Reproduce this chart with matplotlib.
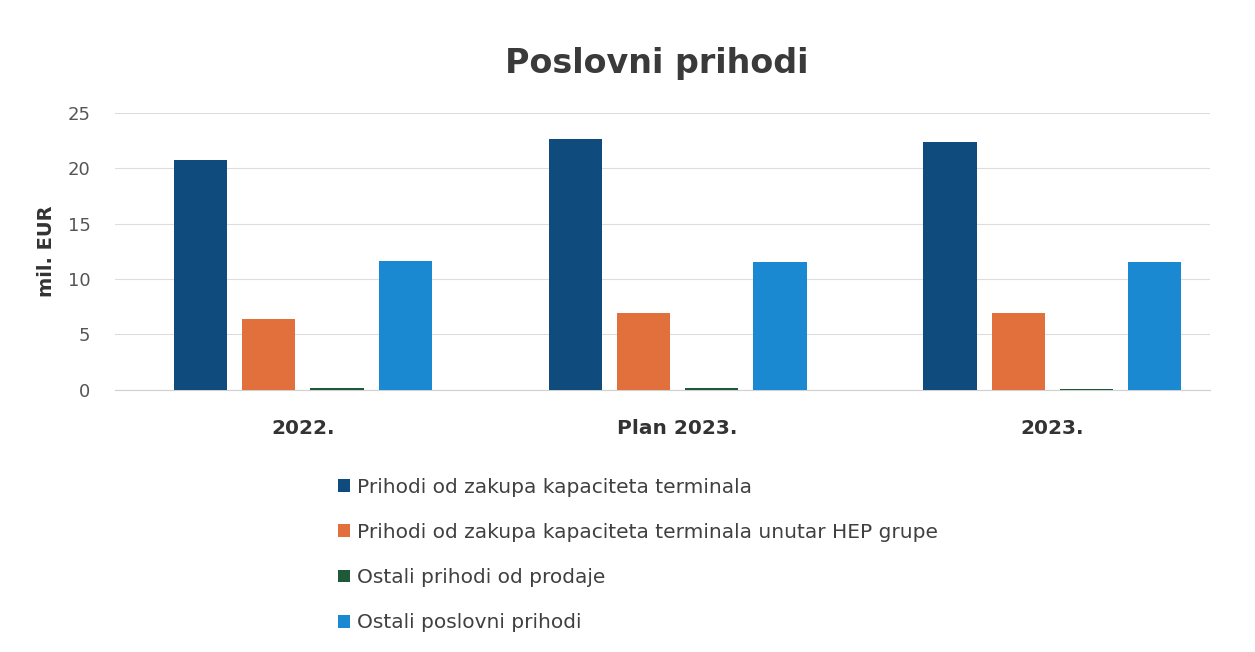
import numpy as np
import matplotlib.pyplot as plt

# Poslovni prihodi po kategorijama (mil. EUR)
kategorije = ['2022.', 'Plan 2023.', '2023.']
serije = ['Prihodi od zakupa kapaciteta terminala',
          'Prihodi od zakupa kapaciteta terminala unutar HEP grupe',
          'Ostali prihodi od prodaje',
          'Ostali poslovni prihodi']
zakup = [20.7, 22.6, 22.4]
zakup_hep = [6.4, 6.9, 6.9]
ostali_prodaja = [0.2, 0.15, 0.1]
ostali_poslovni = [11.6, 11.5, 11.5]
boje = ['#0f4c7d', '#e2703c', '#1e5a37', '#1a89d2']

vrijednosti = [zakup, zakup_hep, ostali_prodaja, ostali_poslovni]

fig = plt.figure(figsize=(12.55, 6.52), dpi=100)
ax = fig.add_axes([0.092, 0.402, 0.872, 0.425])

x = np.arange(len(kategorije))
sirina = 0.142
korak = 0.182
for i, (v, b) in enumerate(zip(vrijednosti, boje)):
    ax.bar(x + (i - 1.5) * korak, v, width=sirina, color=b, label=serije[i], zorder=3)

ax.set_ylim(0, 25)
ax.set_xlim(-0.5, 2.42)
ax.set_yticks(range(0, 26, 5))
ax.set_xticks(x)
ax.set_xticklabels(kategorije, fontsize=14.5, fontweight='bold', color='#333333')
ax.tick_params(axis='y', labelsize=13, labelcolor='#555555', length=0, pad=18)
ax.tick_params(axis='x', length=0, pad=21)
ax.grid(axis='y', color='#dddddd', linewidth=0.8, zorder=0)
for s in ['top', 'right', 'left']:
    ax.spines[s].set_visible(False)
ax.spines['bottom'].set_color('#d0d0d0')
ax.set_ylabel('mil. EUR', fontsize=14, fontweight='bold', color='#333333', labelpad=8)

fig.text(0.523, 0.903, 'Poslovni prihodi', ha='center', va='center',
         fontsize=24, fontweight='bold', color='#3a3a3a')

fig.legend(loc='upper left', bbox_to_anchor=(0.255, 0.295), frameon=False,
           fontsize=14.5, labelcolor='#404040', handlelength=0.6, handleheight=0.6,
           handletextpad=0.35, labelspacing=1.3)

fig.savefig('out.png', dpi=100, facecolor='white')
